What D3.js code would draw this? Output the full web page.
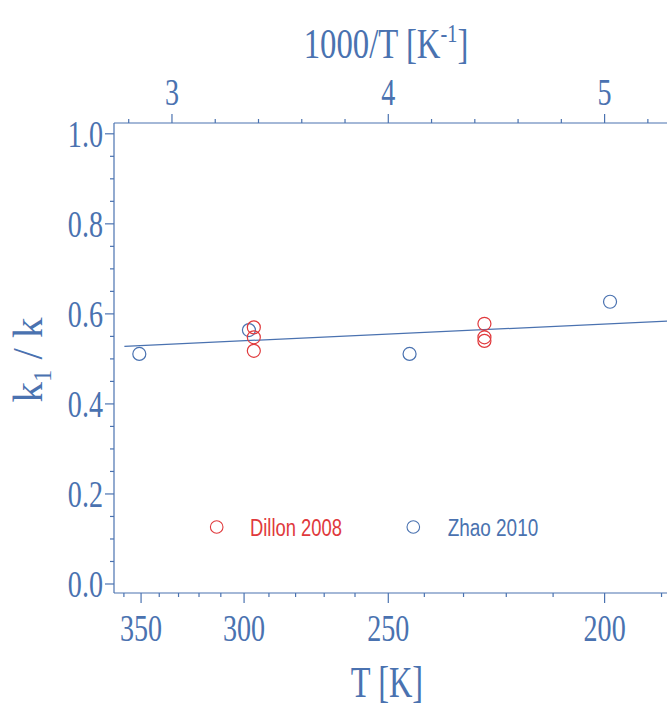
<!DOCTYPE html>
<html>
  <head>
    <script src='https://cdn.jsdelivr.net/npm/d3@7/dist/d3.min.js'></script>
    <style type='text/css'>
      body, html { margin: 0; padding: 0; background: #fff; }
      svg { display: block; }
    </style>
  </head>
  <body>
    <svg width='667' height='709'></svg>
    <script type='text/javascript'>
      // Dillon 2008 (red) and Zhao 2010 (blue), T in K
      var dillonT = [296, 296, 296, 225, 225, 225]
      var dillonK = [0.570, 0.548, 0.518, 0.578, 0.548, 0.540]
      var zhaoT = [351, 298, 244, 199]
      var zhaoK = [0.511, 0.564, 0.511, 0.627]

      // fitted line, in 1000/T
      var fitInv = [2.78, 5.3]
      var fitK = [0.528, 0.584]

      var topTicks = [3, 4, 5]
      var topMinor = [2.8, 3.2, 3.4, 3.6, 3.8, 4.2, 4.4, 4.6, 4.8, 5.2]
      var bottomTicks = [350, 300, 250, 200]
      var bottomMinor = [360, 340, 330, 320, 310, 290, 280, 270, 260, 240, 230, 220, 210, 190]
      var yTicks = [0, 0.2, 0.4, 0.6, 0.8, 1.0]

      var blue = '#4a72b0'
      var red = '#e0393c'
      var serif = "'Liberation Serif', 'Times New Roman', serif"

      var svg = d3.select('svg')

      var x = d3.scaleLinear().domain([2.732, 5.3]).range([114, 669.5])
      var y = d3.scaleLinear().domain([-0.02, 1.024]).range([593, 123])
      var inv = function(T) { return 1000 / T }

      var yMinor = d3.range(0, 1.0001, 0.05).filter(function(v) {
        return Math.abs(Math.round(v * 5) - v * 5) > 1e-6
      })

      var axisG = svg.append('g').attr('stroke', blue).attr('stroke-width', 1.2).attr('fill', 'none')

      // axis lines
      axisG.append('line').attr('x1', x(2.732)).attr('x2', x(2.732)).attr('y1', y(-0.02)).attr('y2', y(1.024))
      axisG.append('line').attr('x1', x(2.732)).attr('x2', 667).attr('y1', y(1.024)).attr('y2', y(1.024))
      axisG.append('line').attr('x1', x(2.732)).attr('x2', 667).attr('y1', y(-0.02)).attr('y2', y(-0.02))

      // left ticks
      axisG.selectAll('.yt').data(yTicks).enter().append('line')
        .attr('x1', x(2.732) - 9).attr('x2', x(2.732))
        .attr('y1', function(d) { return y(d) }).attr('y2', function(d) { return y(d) })
      axisG.selectAll('.ym').data(yMinor).enter().append('line')
        .attr('x1', x(2.732) - 4).attr('x2', x(2.732))
        .attr('y1', function(d) { return y(d) }).attr('y2', function(d) { return y(d) })

      // top ticks
      axisG.selectAll('.tt').data(topTicks).enter().append('line')
        .attr('x1', function(d) { return x(d) }).attr('x2', function(d) { return x(d) })
        .attr('y1', y(1.024) - 9).attr('y2', y(1.024))
      axisG.selectAll('.tm').data(topMinor).enter().append('line')
        .attr('x1', function(d) { return x(d) }).attr('x2', function(d) { return x(d) })
        .attr('y1', y(1.024) - 4).attr('y2', y(1.024))

      // bottom ticks
      axisG.selectAll('.bt').data(bottomTicks).enter().append('line')
        .attr('x1', function(d) { return x(inv(d)) }).attr('x2', function(d) { return x(inv(d)) })
        .attr('y1', y(-0.02)).attr('y2', y(-0.02) + 10)
      axisG.selectAll('.bm').data(bottomMinor).enter().append('line')
        .attr('x1', function(d) { return x(inv(d)) }).attr('x2', function(d) { return x(inv(d)) })
        .attr('y1', y(-0.02)).attr('y2', y(-0.02) + 4)

      // condensed serif label helper
      function label(px, py, txt, anchor, size, sx) {
        return svg.append('text')
          .attr('transform', 'translate(' + px + ',' + py + ') scale(' + sx + ',1)')
          .attr('text-anchor', anchor)
          .attr('font-family', serif)
          .attr('font-size', size)
          .attr('fill', blue)
          .text(txt)
      }

      yTicks.forEach(function(v) {
        label(x(2.732) - 11, y(v) + 13, d3.format('.1f')(v), 'end', 37, 0.76)
      })
      topTicks.forEach(function(v) {
        label(x(v), 105, String(v), 'middle', 37, 0.76)
      })
      bottomTicks.forEach(function(v) {
        label(x(inv(v)), 641, String(v), 'middle', 37, 0.76)
      })

      // axis titles
      var tt = label(386, 58, '1000/T [K', 'middle', 42, 0.78)
      tt.append('tspan').attr('font-size', 26).attr('dy', -16).text('-1')
      tt.append('tspan').attr('dy', 16).text(']')

      label(387, 697, 'T [K]', 'middle', 45, 0.72)

      var yl = svg.append('text')
        .attr('transform', 'translate(42,360) rotate(-90) scale(0.95,1)')
        .attr('text-anchor', 'middle')
        .attr('font-family', serif)
        .attr('font-size', 43)
        .attr('fill', blue)
        .text('k')
      yl.append('tspan').attr('font-size', 26).attr('dy', 9).text('1')
      yl.append('tspan').attr('dy', -9).text(' / k')

      // fit line
      var line = d3.line()
        .x(function(d) { return x(d[0]) })
        .y(function(d) { return y(d[1]) })
      svg.append('path')
        .datum(d3.zip(fitInv, fitK))
        .attr('d', line)
        .attr('fill', 'none')
        .attr('stroke', blue)
        .attr('stroke-width', 1.3)

      // points
      svg.selectAll('.zhao').data(d3.zip(zhaoT, zhaoK)).enter().append('circle')
        .attr('cx', function(d) { return x(inv(d[0])) })
        .attr('cy', function(d) { return y(d[1]) })
        .attr('r', 6.5)
        .attr('fill', 'none').attr('stroke', blue).attr('stroke-width', 1.2)

      svg.selectAll('.dillon').data(d3.zip(dillonT, dillonK)).enter().append('circle')
        .attr('cx', function(d) { return x(inv(d[0])) })
        .attr('cy', function(d) { return y(d[1]) })
        .attr('r', 6.5)
        .attr('fill', 'none').attr('stroke', red).attr('stroke-width', 1.2)

      // legend
      var legend = [
        {name: 'Dillon 2008', color: red, cx: 216.7, tx: 250, w: 92},
        {name: 'Zhao 2010', color: blue, cx: 413.3, tx: 447.7, w: 90.5}
      ]
      legend.forEach(function(l) {
        svg.append('circle').attr('cx', l.cx).attr('cy', 527).attr('r', 6.3)
          .attr('fill', 'none').attr('stroke', l.color).attr('stroke-width', 1.1)
        svg.append('text').attr('x', l.tx).attr('y', 536)
          .attr('font-family', "'Liberation Sans', Arial, sans-serif")
          .attr('font-size', 23)
          .attr('textLength', l.w).attr('lengthAdjust', 'spacingAndGlyphs')
          .attr('fill', l.color)
          .text(l.name)
      })
    </script>
  </body>
</html>
